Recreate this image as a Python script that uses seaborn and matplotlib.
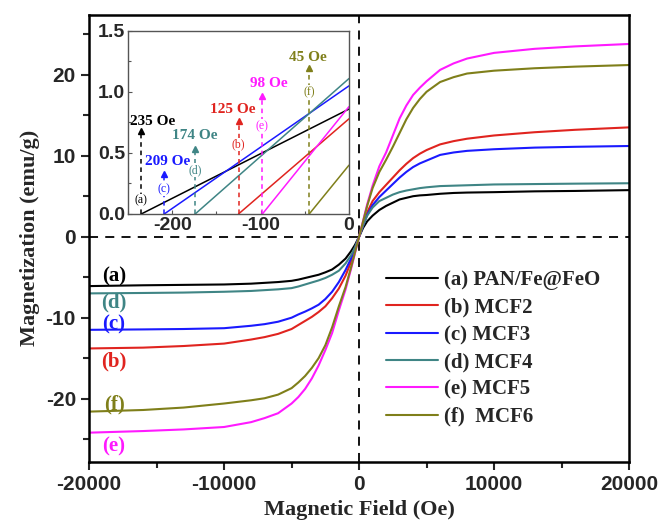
import matplotlib
matplotlib.use("Agg")
import matplotlib.pyplot as plt
from matplotlib.ticker import MultipleLocator
import numpy as np
import pandas as pd
import seaborn as sns

# Field values (Oe) shared by all samples
field = [-20000, -16000, -13000, -10000, -8000, -7000, -6000, -5000, -4500,
         -4000, -3500, -3000, -2500, -2000, -1500, -1000, -600, -300, 0, 300,
         600, 1000, 1500, 2000, 2500, 3000, 3500, 4000, 4500, 5000, 6000,
         7000, 8000, 10000, 13000, 16000, 20000]

# Magnetization (emu/g)
m_a = [-6.1, -6.0, -5.95, -5.9, -5.8, -5.7, -5.6, -5.45, -5.3, -5.1, -4.9,
       -4.7, -4.4, -4.05, -3.45, -2.7, -1.8, -1.0, 0.0, 1.1, 1.9, 2.6, 3.3,
       3.8, 4.2, 4.6, 4.8, 5.0, 5.1, 5.15, 5.3, 5.4, 5.45, 5.5, 5.6, 5.65,
       5.75]
m_b = [-13.8, -13.7, -13.5, -13.2, -12.7, -12.4, -12.0, -11.4, -10.9, -10.4,
       -9.9, -9.3, -8.6, -7.6, -6.4, -4.8, -3.1, -1.6, 0.0, 1.6, 3.0, 4.4,
       5.5, 6.4, 7.3, 8.2, 9.0, 9.7, 10.25, 10.7, 11.4, 11.8, 12.1, 12.5,
       12.9, 13.2, 13.5]
m_c = [-11.5, -11.45, -11.4, -11.3, -11.0, -10.8, -10.5, -10.0, -9.6, -9.25,
       -8.85, -8.4, -7.7, -6.8, -5.6, -4.1, -2.7, -1.4, 0.0, 1.4, 2.7, 3.9,
       4.9, 5.7, 6.5, 7.3, 8.0, 8.6, 9.05, 9.4, 10.1, 10.4, 10.6, 10.8, 11.0,
       11.1, 11.2]
m_d = [-7.0, -6.95, -6.9, -6.8, -6.7, -6.6, -6.5, -6.35, -6.15, -5.9, -5.65,
       -5.4, -5.1, -4.7, -4.2, -3.3, -2.3, -1.3, 0.0, 1.4, 2.6, 3.6, 4.4, 4.8,
       5.2, 5.5, 5.7, 5.85, 6.0, 6.1, 6.25, 6.3, 6.35, 6.45, 6.5, 6.55, 6.6]
m_e = [-24.2, -24.0, -23.8, -23.5, -22.9, -22.4, -21.8, -20.6, -19.8, -18.8,
       -17.5, -15.9, -14.0, -11.9, -9.1, -6.5, -4.0, -2.0, 0.0, 2.0, 4.0, 6.3,
       8.7, 10.4, 12.5, 14.6, 16.2, 17.5, 18.4, 19.2, 20.6, 21.4, 22.0, 22.7,
       23.2, 23.5, 23.8]
m_f = [-21.6, -21.4, -21.1, -20.6, -20.2, -19.95, -19.5, -18.7, -18.0, -17.2,
       -16.2, -15.0, -13.4, -11.2, -8.6, -6.2, -3.8, -1.9, 0.0, 1.9, 3.8, 6.0,
       8.0, 9.5, 11.1, 12.8, 14.5, 15.9, 17.0, 17.9, 19.1, 19.7, 20.15, 20.5,
       20.8, 21.0, 21.2]

names = ["(a) PAN/Fe@FeO", "(b) MCF2", "(c) MCF3", "(d) MCF4", "(e) MCF5",
         "(f)  MCF6"]
letters = ["(a)", "(b)", "(c)", "(d)", "(e)", "(f)"]
colors = ["#000000", "#e0241f", "#1a1aff", "#3f8585", "#ff1aff", "#7f7f1a"]

# Inset: coercivity (Oe) and value at H = 0
coercivity = [235, 125, 209, 174, 98, 45]
intercept = [0.86, 0.78, 1.05, 1.11, 0.88, 0.40]

df = pd.DataFrame({
    "field": field * 6,
    "m": m_a + m_b + m_c + m_d + m_e + m_f,
    "sample": np.repeat(names, len(field)),
})

sns.set_theme(style="ticks")
plt.rcParams["font.family"] = ["Liberation Sans", "DejaVu Sans"]
plt.rcParams["font.weight"] = "bold"
plt.rcParams["axes.unicode_minus"] = False

fig = plt.figure(figsize=(6.65, 5.29), dpi=100)
ax = fig.add_axes([0.134, 0.127, 0.812, 0.845])

sns.lineplot(data=df, x="field", y="m", hue="sample", palette=colors,
             hue_order=names, linewidth=1.5, ax=ax, legend=False)

ax.axhline(0, color="black", ls=(0, (5, 4)), lw=1.3, zorder=0)
ax.axvline(0, color="black", ls=(0, (5, 4)), lw=1.3, zorder=0)

ax.set_xlim(-20000, 20000)
ax.set_ylim(-27.8, 27.4)
ax.xaxis.set_major_locator(MultipleLocator(10000))
ax.xaxis.set_minor_locator(MultipleLocator(5000))
ax.yaxis.set_major_locator(MultipleLocator(10))
ax.yaxis.set_minor_locator(MultipleLocator(5))
ax.tick_params(which="major", direction="out", length=6, width=1.5,
               labelsize=15, top=False, right=False)
ax.tick_params(which="minor", direction="out", length=4, width=1.5,
               top=False, right=False)
for sp in ax.spines.values():
    sp.set_linewidth(1.8)
    sp.set_color("black")

serif = ["Liberation Serif", "DejaVu Serif"]
ax.set_xlabel("Magnetic Field (Oe)", fontsize=16, fontweight="bold",
              family=serif, labelpad=4)
ax.set_ylabel("Magnetization (emu/g)", fontsize=16, fontweight="bold",
              family=serif, labelpad=4)

# letters at the left end of each curve
label_y = [-4.9, -15.4, -10.9, -8.1, -25.9, -20.7]
for lt, c, yy in zip(letters, colors, label_y):
    ax.text(-18150, yy, lt, color=c, fontsize=15, fontweight="bold",
            family=serif, ha="center", va="center")

handles = [plt.Line2D([], [], color=c, lw=1.5) for c in colors]
leg = ax.legend(handles, names, loc="center left",
                bbox_to_anchor=(0.515, 0.253), frameon=False,
                handlelength=2.5, handletextpad=0.3, labelspacing=0.35,
                prop={"family": serif, "weight": "bold", "size": 15})

# inset
ins = fig.add_axes([0.1925, 0.5955, 0.3323, 0.346])
ins.set_facecolor("white")
for hc, m0, c in zip(coercivity, intercept, colors):
    ins.plot([-hc, 0], [0, m0], color=c, lw=1.1)

tip_y = [0.68, 0.76, 0.33, 0.53, 0.97, 1.20]
let_y = [0.11, 0.57, 0.20, 0.36, 0.72, 1.00]
val_x = [-222, -132, -205, -175, -91, -47]
val_y = [0.76, 0.86, 0.43, 0.64, 1.07, 1.28]
for i, (hc, c) in enumerate(zip(coercivity, colors)):
    ins.plot([-hc, -hc], [0, tip_y[i]], color=c, lw=1.1, ls=(0, (3, 2.5)))
    ins.plot(-hc, tip_y[i], marker="^", ms=4, color=c)
    ins.text(-hc, let_y[i], letters[i], color=c, fontsize=8.5, family=serif,
             fontweight="normal", ha="center", va="center",
             bbox=dict(facecolor="white", edgecolor="none", pad=0.6))
    ins.text(val_x[i], val_y[i], f"{hc} Oe", color=c, fontsize=11,
             fontweight="bold", family=serif, ha="center", va="center")

ins.set_xlim(-250, 0)
ins.set_ylim(0, 1.5)
ins.xaxis.set_major_locator(MultipleLocator(100))
ins.xaxis.set_minor_locator(MultipleLocator(50))
ins.yaxis.set_minor_locator(MultipleLocator(0.25))
ins.tick_params(which="major", direction="in", length=3, width=0.8,
                labelsize=14, pad=2, color="#555555")
ins.tick_params(which="minor", direction="in", length=2, width=0.8,
                color="#555555")
ins.set_yticks([0, 0.5, 1.0, 1.5])
ins.set_yticklabels(["0.0", "0.5", "1.0", "1.5"])
for sp in ins.spines.values():
    sp.set_linewidth(1.0)
    sp.set_color("#555555")

fig.savefig("out.png", dpi=100)
